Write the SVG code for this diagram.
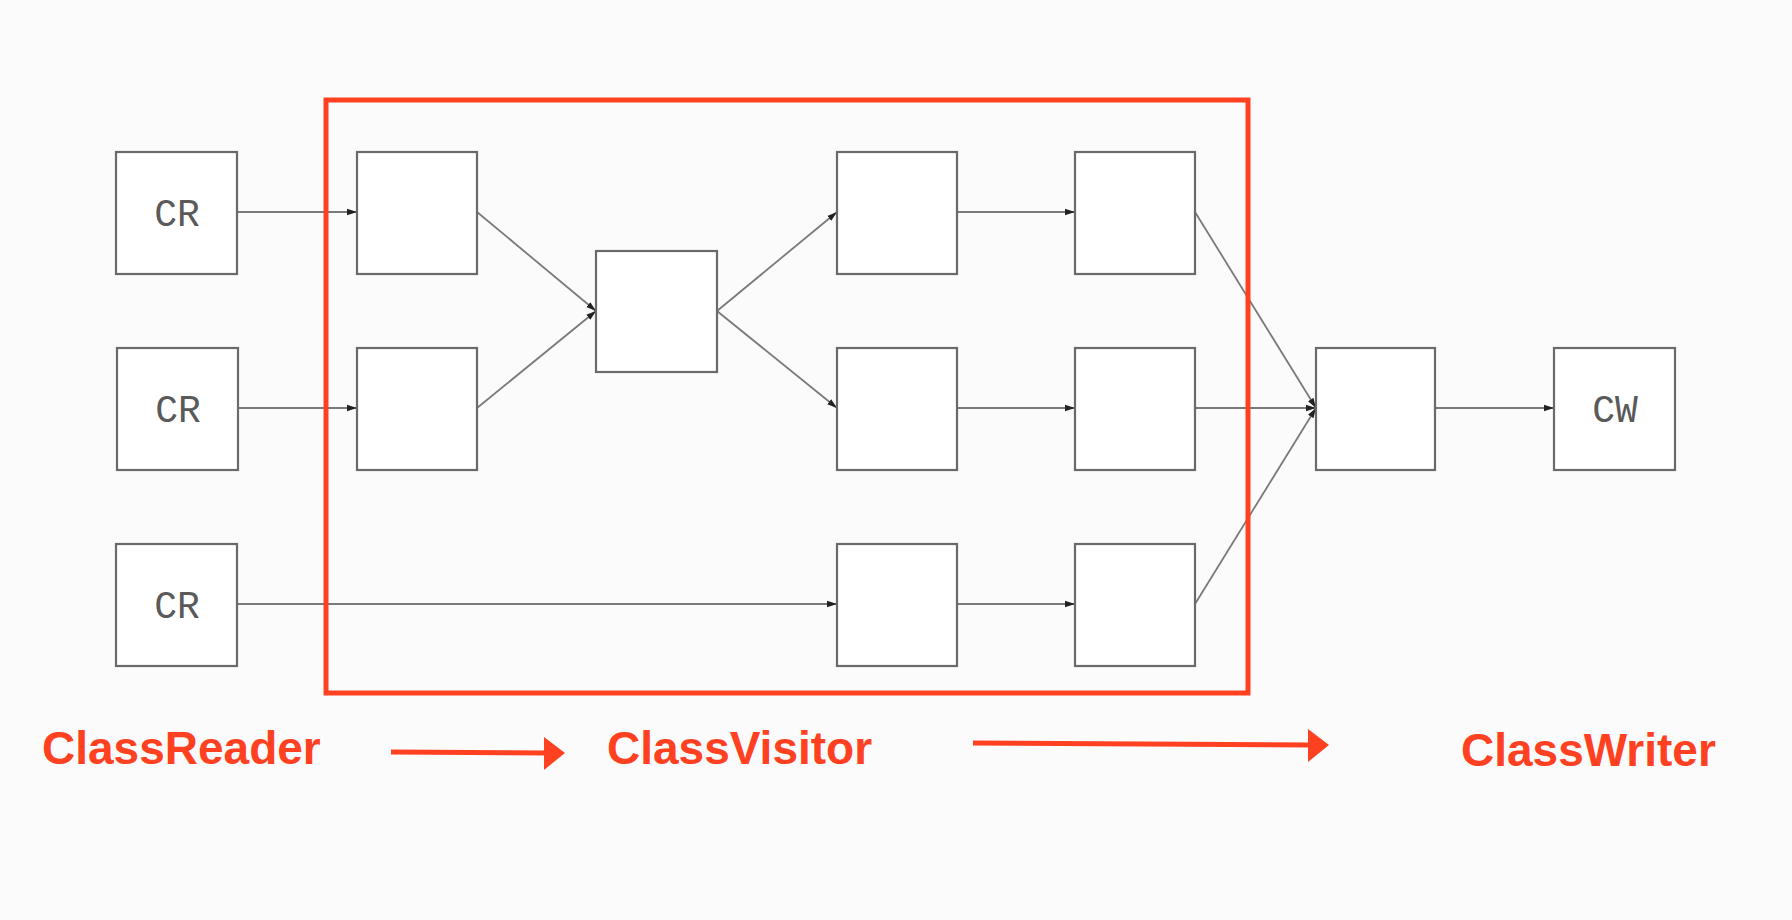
<svg xmlns="http://www.w3.org/2000/svg" width="1792" height="920" viewBox="0 0 1792 920">
  <style>
    .box { fill: #ffffff; stroke: #6a6a6a; stroke-width: 2.2; }
    .conn { fill: none; stroke: #7a7a7a; stroke-width: 1.8; }
    .lbl { font-family: "Liberation Mono", "DejaVu Sans Mono", monospace; font-size: 38px; fill: #5a5a5a; text-anchor: middle; }
    .red { font-family: "Liberation Sans", Arial, sans-serif; font-weight: bold; font-size: 46px; fill: #ff4122; }
    .redline { fill: none; stroke: #ff4122; stroke-width: 5; }
  </style>
  <defs>
    <marker id="ah" markerWidth="10" markerHeight="8" refX="10" refY="4" orient="auto" markerUnits="userSpaceOnUse">
      <path d="M0,0.8 L10,4 L0,7.2 Z" fill="#222"/>
    </marker>
  </defs>
  <rect x="0" y="0" width="1792" height="920" fill="#fbfbfb"/>

  <g id="connectors">
    <line class="conn" x1="237" y1="212" x2="357" y2="212" marker-end="url(#ah)"/>
    <line class="conn" x1="238" y1="408" x2="357" y2="408" marker-end="url(#ah)"/>
    <line class="conn" x1="237" y1="604" x2="837" y2="604" marker-end="url(#ah)"/>
    <line class="conn" x1="477" y1="212" x2="596" y2="311" marker-end="url(#ah)"/>
    <line class="conn" x1="477" y1="408" x2="596" y2="311" marker-end="url(#ah)"/>
    <line class="conn" x1="717" y1="311" x2="837" y2="212" marker-end="url(#ah)"/>
    <line class="conn" x1="717" y1="311" x2="837" y2="408" marker-end="url(#ah)"/>
    <line class="conn" x1="957" y1="212" x2="1075" y2="212" marker-end="url(#ah)"/>
    <line class="conn" x1="957" y1="408" x2="1075" y2="408" marker-end="url(#ah)"/>
    <line class="conn" x1="957" y1="604" x2="1075" y2="604" marker-end="url(#ah)"/>
    <line class="conn" x1="1195" y1="212" x2="1316" y2="408" marker-end="url(#ah)"/>
    <line class="conn" x1="1195" y1="408" x2="1316" y2="408" marker-end="url(#ah)"/>
    <line class="conn" x1="1195" y1="604" x2="1316" y2="408" marker-end="url(#ah)"/>
    <line class="conn" x1="1435" y1="408" x2="1554" y2="408" marker-end="url(#ah)"/>
  </g>

  <g id="cr1"><rect class="box" x="116" y="152" width="121" height="122"/><text class="lbl" x="177" y="226">CR</text></g>
  <g id="cr2"><rect class="box" x="117" y="348" width="121" height="122"/><text class="lbl" x="178" y="422">CR</text></g>
  <g id="cr3"><rect class="box" x="116" y="544" width="121" height="122"/><text class="lbl" x="177" y="618">CR</text></g>

  <g id="v1"><rect class="box" x="357" y="152" width="120" height="122"/></g>
  <g id="v2"><rect class="box" x="357" y="348" width="120" height="122"/></g>
  <g id="v3"><rect class="box" x="596" y="251" width="121" height="121"/></g>
  <g id="v4"><rect class="box" x="837" y="152" width="120" height="122"/></g>
  <g id="v5"><rect class="box" x="837" y="348" width="120" height="122"/></g>
  <g id="v6"><rect class="box" x="837" y="544" width="120" height="122"/></g>
  <g id="v7"><rect class="box" x="1075" y="152" width="120" height="122"/></g>
  <g id="v8"><rect class="box" x="1075" y="348" width="120" height="122"/></g>
  <g id="v9"><rect class="box" x="1075" y="544" width="120" height="122"/></g>
  <g id="v10"><rect class="box" x="1316" y="348" width="119" height="122"/></g>
  <g id="cw"><rect class="box" x="1554" y="348" width="121" height="122"/><text class="lbl" x="1615" y="422">CW</text></g>

  <g id="visitor-frame">
    <rect class="redline" x="326" y="100" width="922" height="593"/>
  </g>

  <g id="legend">
    <text class="red" x="42" y="764">ClassReader</text>
    <text class="red" x="607" y="764">ClassVisitor</text>
    <text class="red" x="1461" y="766">ClassWriter</text>
    <path d="M391,752 L546,753" stroke="#ff4122" stroke-width="5" fill="none"/>
    <path d="M544,737 L565,753 L544,770 Z" fill="#ff4122"/>
    <path d="M973,743 L1310,745" stroke="#ff4122" stroke-width="5" fill="none"/>
    <path d="M1308,729 L1329,745 L1308,762 Z" fill="#ff4122"/>
  </g>
</svg>
